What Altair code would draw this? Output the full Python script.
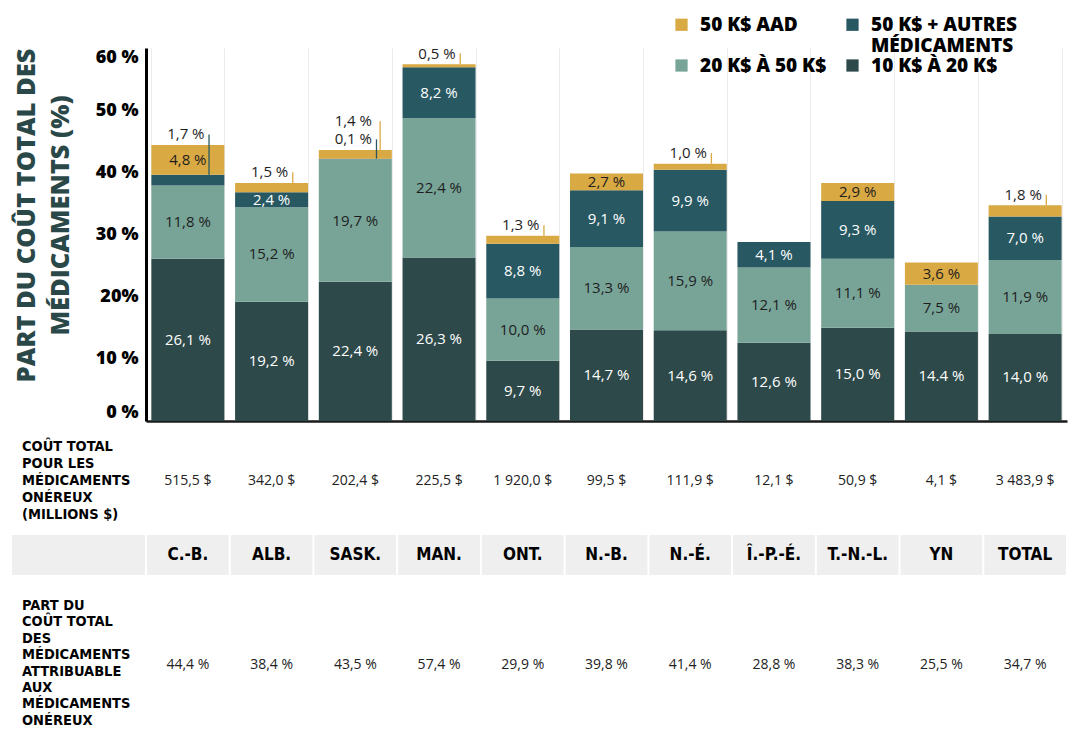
import altair as alt
import pandas as pd

# ---------------- data ----------------
categories = ["C.-B.", "ALB.", "SASK.", "MAN.", "ONT.", "N.-B.", "N.-É.",
              "Î.-P.-É.", "T.-N.-L.", "YN", "TOTAL"]
seg_10_20 = [26.1, 19.2, 22.4, 26.3, 9.7, 14.7, 14.6, 12.6, 15.0, 14.4, 14.0]
seg_20_50 = [11.8, 15.2, 19.7, 22.4, 10.0, 13.3, 15.9, 12.1, 11.1, 7.5, 11.9]
seg_50_autres = [1.7, 2.4, 0.1, 8.2, 8.8, 9.1, 9.9, 4.1, 9.3, 0.0, 7.0]
seg_50_aad = [4.8, 1.5, 1.4, 0.5, 1.3, 2.7, 1.0, 0.0, 2.9, 3.6, 1.8]

cost_labels = ["515,5 $", "342,0 $", "202,4 $", "225,5 $", "1 920,0 $", "99,5 $",
               "111,9 $", "12,1 $", "50,9 $", "4,1 $", "3 483,9 $"]
share_labels = ["44,4 %", "38,4 %", "43,5 %", "57,4 %", "29,9 %", "39,8 %",
                "41,4 %", "28,8 %", "38,3 %", "25,5 %", "34,7 %"]

series_names = ["10 K$ À 20 K$", "20 K$ À 50 K$", "50 K$ + AUTRES MÉDICAMENTS", "50 K$ AAD"]
series_colors = ["#2d4949", "#78a498", "#285862", "#d9a943"]
text_colors = ["#ffffff", "#1e1e1e", "#ffffff", "#1e1e1e"]
legend_order = ["50 K$ AAD", "50 K$ + AUTRES MÉDICAMENTS", "20 K$ À 50 K$", "10 K$ À 20 K$"]

ytick_values = [0, 10, 20, 30, 40, 50, 60]
ytick_labels = ["0 %", "10 %", "20%", "30 %", "40 %", "50 %", "60 %"]

row1_title = "COÛT TOTAL\nPOUR LES\nMÉDICAMENTS\nONÉREUX\n(MILLIONS $)"
row2_title = "PART DU\nCOÛT TOTAL\nDES\nMÉDICAMENTS\nATTRIBUABLE\nAUX\nMÉDICAMENTS\nONÉREUX"
y_title = ["PART DU COÛT TOTAL DES", "MÉDICAMENTS (%)"]
label_overrides = {("YN", "10 K$ À 20 K$"): "14.4 %"}

# ---------------- table building ----------------
series_vals = [seg_10_20, seg_20_50, seg_50_autres, seg_50_aad]
rows = []
for ci, cat in enumerate(categories):
    slot = 0
    for si, name in enumerate(series_names):
        v = series_vals[si][ci]
        if v <= 0:
            continue
        outside = 1 if v < 2 else 0
        if outside:
            slot += 1
        lab = label_overrides.get((cat, name), f"{v:.1f}".replace(".", ",") + " %")
        rows.append(dict(cat=cat, series=name, value=v, order=si, label=lab,
                         outside=outside, slot=slot if outside else 0,
                         hex=series_colors[si], tcolor=text_colors[si]))
df = pd.DataFrame(rows)
table_df = pd.DataFrame(dict(cat=categories, cost=cost_labels, share=share_labels))
titles_df = pd.DataFrame(dict(t=[row1_title, row2_title], row=[1, 2]))
one = pd.DataFrame(dict(a=[0]))

BOLD = "'DejaVu Sans Condensed', 'Open Sans', sans-serif"
HEAVY = "Open Sans"
REG = "Open Sans"

x_axis = alt.Axis(grid=True, tickBand="extent", labels=False, ticks=False, title=None,
                  domain=True, domainColor="#1a1a1a", domainWidth=2.5,
                  gridColor="#ebebeb", gridWidth=1)
x_scale = alt.Scale(paddingInner=0.128, paddingOuter=0.064)


def X(bp=None):
    kw = dict(sort=categories, scale=x_scale, axis=x_axis)
    if bp is not None:
        kw["bandPosition"] = bp
    return alt.X("cat:N", **kw)


label_expr = "[" + ",".join(f"'{l}'" for l in ytick_labels) + "][indexof([" + \
    ",".join(str(v) for v in ytick_values) + "], datum.value)]"

y_axis = alt.Axis(values=ytick_values, labelExpr=label_expr, grid=False, ticks=False,
                  domainColor="black", domainWidth=3, labelFont=HEAVY, labelFontSize=18,
                  labelFontWeight=800, labelColor="black", labelPadding=8, labelFlush=True,
                  title=y_title, titleFont=HEAVY, titleFontSize=25.5, titleFontWeight=800,
                  titleColor="#2b4848", titleAngle=270, titleX=-120, titleY=167,
                  titleAlign="center", titleBaseline="middle", titleLineHeight=34)
y_scale = alt.Scale(domain=[0, 60], nice=False, zero=True)

base = alt.Chart(df).transform_stack(
    stack="value", groupby=["cat"], sort=[alt.SortField("order", "ascending")], as_=["y0", "y1"]
).transform_joinaggregate(total="sum(value)", groupby=["cat"]).transform_calculate(
    mid="(datum.y0 + datum.y1) / 2",
    ly="datum.total + (datum.slot == 1 ? 1.7 : 4.6)"
)

legend_label_expr = ("datum.label == '50 K$ + AUTRES MÉDICAMENTS' ? ['50 K$ + AUTRES', 'MÉDICAMENTS'] : "
                     "(datum.label == '50 K$ AAD' ? ['50 K$ AAD', ' '] : datum.label)")

bars = base.mark_bar().encode(
    x=X(),
    y=alt.Y("y0:Q", scale=y_scale, axis=y_axis),
    y2="y1:Q",
    color=alt.Color("series:N",
                    scale=alt.Scale(domain=legend_order,
                                    range=[series_colors[3], series_colors[2],
                                           series_colors[1], series_colors[0]]),
                    legend=alt.Legend(orient="none", legendX=526, legendY=-33, columns=2,
                                      direction="horizontal",
                                      symbolType="square", symbolSize=150, symbolStrokeWidth=0,
                                      labelFont=HEAVY, labelFontSize=19, labelFontWeight=800,
                                      labelColor="black", labelLimit=400, labelOffset=9,
                                      columnPadding=16, rowPadding=0,
                                      title=None,
                                      labelExpr=legend_label_expr)),
)

rules1 = base.transform_filter("datum.slot == 1").mark_rule(strokeWidth=1.3).encode(
    x=X(0.79), y=alt.Y("y1:Q", scale=y_scale, axis=y_axis), y2="ly:Q",
    color=alt.Color("hex:N", scale=None))
rules2 = base.transform_filter("datum.slot == 2").mark_rule(strokeWidth=1.3).encode(
    x=X(0.84), y=alt.Y("y1:Q", scale=y_scale, axis=y_axis), y2="ly:Q",
    color=alt.Color("hex:N", scale=None))

inside = base.transform_filter("datum.outside == 0").mark_text(
    font=REG, fontSize=15, baseline="middle").encode(
    x=X(), y=alt.Y("mid:Q", scale=y_scale, axis=y_axis), text="label:N",
    color=alt.Color("tcolor:N", scale=None))

outside = base.transform_filter("datum.outside == 1").mark_text(
    font=REG, fontSize=15, baseline="middle", dx=-2, color="#1e1e1e").encode(
    x=X(), y=alt.Y("ly:Q", scale=y_scale, axis=y_axis), text="label:N")

left_cell = alt.Chart(one).mark_rect(color="#efefef").encode(
    x=alt.value(-134), x2=alt.value(-1), y=alt.value(487), y2=alt.value(527))

cells = alt.Chart(table_df).mark_bar(color="#efefef", width=alt.RelativeBandSize(1.1196)).encode(
    x=X(), y=alt.value(487), y2=alt.value(527))

cats = alt.Chart(table_df).mark_text(font=BOLD, fontSize=17, fontWeight="bold",
                                     color="black", baseline="middle").encode(
    x=X(), y=alt.value(507), text="cat:N")

row1 = alt.Chart(table_df).mark_text(font=REG, fontSize=14, color="#222222",
                                     baseline="middle").encode(
    x=X(), y=alt.value(433), text="cost:N")

row2 = alt.Chart(table_df).mark_text(font=REG, fontSize=14, color="#222222",
                                     baseline="middle").encode(
    x=X(), y=alt.value(617), text="share:N")

t1 = alt.Chart(titles_df).transform_filter("datum.row == 1").mark_text(
    font=BOLD, fontSize=14.5, fontWeight="bold", color="black", align="left",
    baseline="middle", lineBreak="\n", lineHeight=17).encode(
    x=alt.value(-124), y=alt.value(399), text="t:N")
t2 = alt.Chart(titles_df).transform_filter("datum.row == 2").mark_text(
    font=BOLD, fontSize=14.5, fontWeight="bold", color="black", align="left",
    baseline="middle", lineBreak="\n", lineHeight=16.4).encode(
    x=alt.value(-124), y=alt.value(558), text="t:N")

chart = alt.layer(bars, rules1, rules2, inside, outside, left_cell, cells, cats, row1, row2, t1, t2).properties(
    width=921, height=373,
    padding={"left": 138, "top": 40, "right": 14, "bottom": 332},
    autosize=alt.AutoSizeParams(type="none"),
).configure_view(stroke=None)

chart.save("out.html", embed_options={"renderer": "svg", "actions": False})
